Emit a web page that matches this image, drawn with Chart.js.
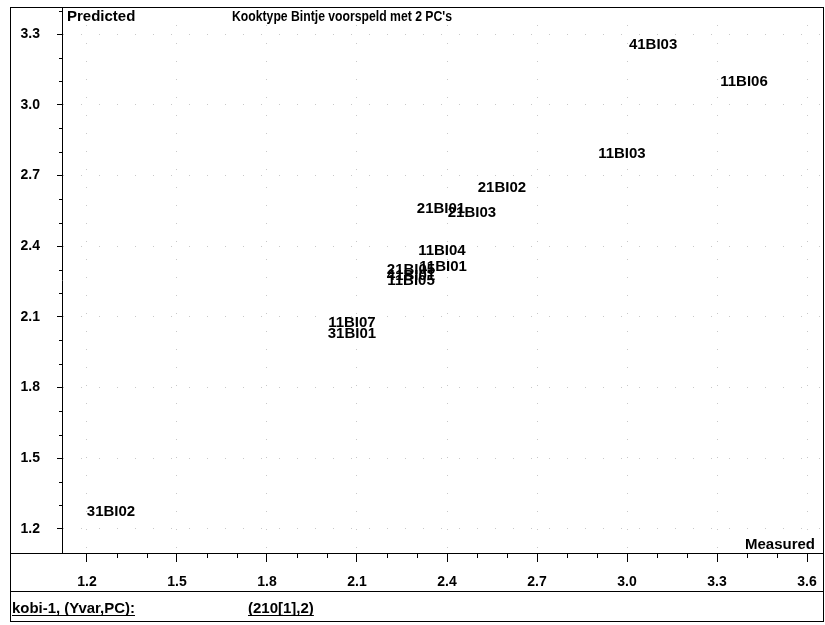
<!DOCTYPE html>
<html>
<head>
<meta charset="utf-8">
<script src="https://cdn.jsdelivr.net/npm/chart.js@4.4.1/dist/chart.umd.min.js"></script>
<style>
  html, body { margin: 0; padding: 0; background: #fff; }
  #wrap { width: 825px; height: 625px; }
</style>
</head>
<body>
<div id="wrap"><canvas id="predChart"></canvas></div>
<script>
const sampleNames = ['31BI02', '11BI07', '31BI01', '21BI05', '41BI01', '11BI05', '11BI01', '11BI04',
                     '21BI01', '21BI03', '21BI02', '11BI03', '11BI06', '41BI03'];
const measured  = [1.28, 2.083, 2.083, 2.28, 2.28, 2.28, 2.387, 2.383, 2.38, 2.483, 2.583, 2.983, 3.39, 3.087];
const predicted = [1.272, 2.074, 2.027, 2.299, 2.273, 2.252, 2.312, 2.379, 2.558, 2.541, 2.647, 2.791, 3.096, 3.253];

const xTickValues = [1.2, 1.5, 1.8, 2.1, 2.4, 2.7, 3.0, 3.3, 3.6];
const yTickValues = [1.2, 1.5, 1.8, 2.1, 2.4, 2.7, 3.0, 3.3];

const fontFamily = '"Liberation Sans", Arial, sans-serif';
const labelFont = 'bold 15px ' + fontFamily;

// sample names are drawn at the points, no markers
const pointLabels = {
    id: 'pointLabels',
    afterDatasetsDraw(chart) {
        const ctx = chart.ctx;
        const meta = chart.getDatasetMeta(0);
        ctx.save();
        ctx.font = labelFont;
        ctx.fillStyle = '#000';
        ctx.textAlign = 'center';
        ctx.textBaseline = 'middle';
        meta.data.forEach(function (pt, i) {
            ctx.fillText(sampleNames[i], pt.x, pt.y);
        });
        ctx.restore();
    }
};

// frame, minor ticks, axis captions and footer
const frame = {
    id: 'frame',
    afterDraw(chart) {
        const ctx = chart.ctx;
        const area = chart.chartArea;
        const xs = chart.scales.x;
        const ys = chart.scales.y;
        ctx.save();
        ctx.strokeStyle = '#000';
        ctx.lineWidth = 1;

        ctx.strokeRect(10.5, 7.5, 813, 614);

        ctx.beginPath();
        ctx.moveTo(10, area.bottom + 0.5);
        ctx.lineTo(area.left, area.bottom + 0.5);
        ctx.moveTo(10, 591.5);
        ctx.lineTo(824, 591.5);
        ctx.stroke();

        ctx.beginPath();
        xTickValues.forEach(function (v) {
            [0.1, 0.2].forEach(function (d) {
                const px = Math.round(xs.getPixelForValue(v + d)) + 0.5;
                if (px < area.right) {
                    ctx.moveTo(px, area.bottom);
                    ctx.lineTo(px, area.bottom + 5);
                }
            });
        });
        yTickValues.forEach(function (v) {
            [0.1, 0.2].forEach(function (d) {
                const py = Math.round(ys.getPixelForValue(v + d)) + 0.5;
                if (py > area.top) {
                    ctx.moveTo(area.left, py);
                    ctx.lineTo(area.left - 3, py);
                }
            });
        });
        ctx.stroke();

        ctx.font = labelFont;
        ctx.fillStyle = '#000';
        ctx.textBaseline = 'alphabetic';
        ctx.textAlign = 'left';
        ctx.fillText('Predicted', 67, 21);
        ctx.font = 'bold 14px ' + fontFamily;
        ctx.fillText("Kooktype Bintje voorspeld met 2 PC's", 232, 21, 220);
        ctx.font = labelFont;
        ctx.textAlign = 'right';
        ctx.fillText('Measured', 815, 549);

        ctx.textAlign = 'left';
        const footer = [['kobi-1, (Yvar,PC):', 12, 123], ['(210[1],2)', 248, 72]];
        footer.forEach(function (f) {
            ctx.fillText(f[0], f[1], 613, f[2]);
            const w = Math.min(ctx.measureText(f[0]).width, f[2]);
            ctx.fillRect(f[1], 615, w, 1);
        });
        ctx.restore();
    }
};

const points = measured.map(function (m, i) { return { x: m, y: predicted[i] }; });

const ctx = document.getElementById('predChart').getContext('2d');
const predChart = new Chart(ctx, {
    type: 'scatter',
    data: {
        datasets: [{
            data: points,
            pointRadius: 0,
            pointHoverRadius: 0,
            showLine: false
        }]
    },
    options: {
        responsive: true,
        maintainAspectRatio: false,
        animation: false,
        layout: { padding: { top: 7, right: 2, left: 0, bottom: 0 } },
        plugins: {
            legend: { display: false },
            tooltip: { enabled: false }
        },
        scales: {
            x: {
                type: 'linear',
                position: 'bottom',
                min: 1.1167,
                max: 3.6533,
                afterBuildTicks: function (scale) {
                    scale.ticks = xTickValues.map(function (v) { return { value: v }; });
                },
                afterFit: function (scale) {
                    scale.height = 72;
                    scale.paddingLeft = 0;
                    scale.paddingRight = 0;
                },
                ticks: {
                    color: '#000',
                    font: { family: fontFamily, size: 14, weight: 'bold' },
                    padding: 12,
                    maxRotation: 0,
                    callback: function (v) { return v.toFixed(1); }
                },
                grid: { color: '#c8c8c8', tickColor: '#000', tickLength: 9, lineWidth: 1 },
                border: { display: true, color: '#000', width: 1, dash: [1, 17] }
            },
            y: {
                type: 'linear',
                min: 1.098,
                max: 3.415,
                afterBuildTicks: function (scale) {
                    scale.ticks = yTickValues.map(function (v) { return { value: v }; });
                },
                afterFit: function (scale) {
                    scale.width = 62;
                    scale.paddingTop = 0;
                    scale.paddingBottom = 0;
                },
                ticks: {
                    color: '#000',
                    font: { family: fontFamily, size: 14, weight: 'bold' },
                    padding: 17,
                    callback: function (v) { return v.toFixed(1); }
                },
                grid: { color: '#c8c8c8', tickColor: '#000', tickLength: 5, lineWidth: 1 },
                border: { display: true, color: '#000', width: 1, dash: [1, 17] }
            }
        }
    },
    plugins: [pointLabels, frame]
});
</script>
</body>
</html>
